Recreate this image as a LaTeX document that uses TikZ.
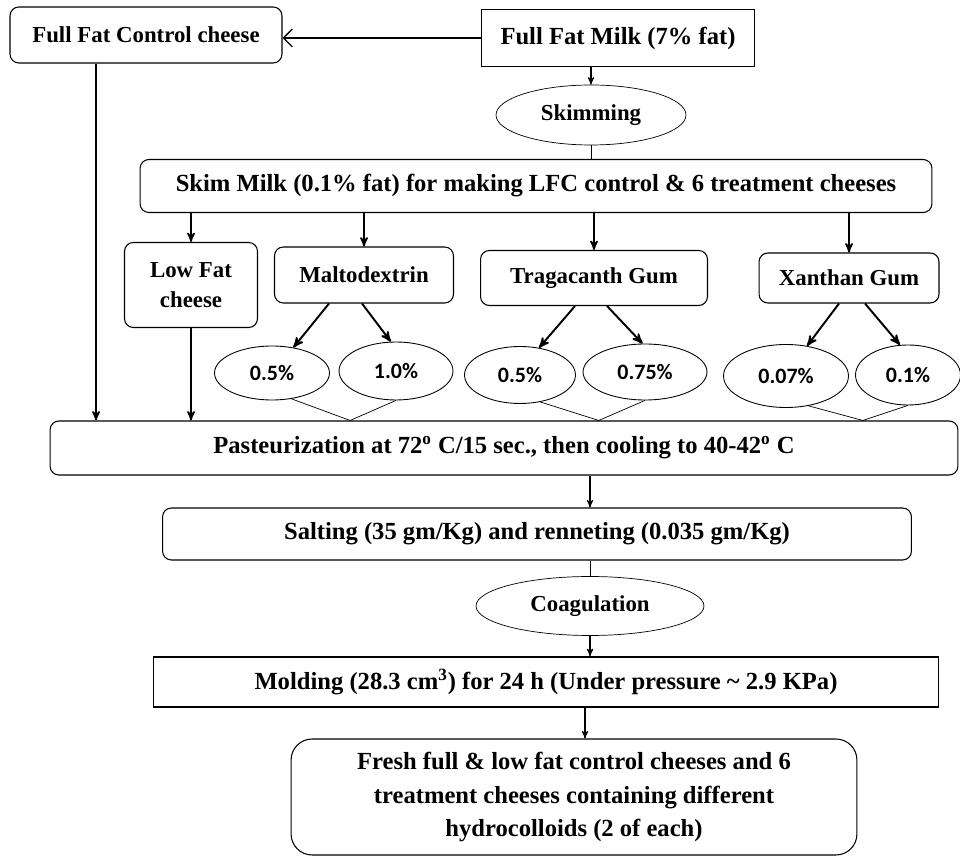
\documentclass[tikz,border=0pt]{standalone}
\usepackage{fontspec}
\setmainfont{Liberation Serif}
\newfontfamily\pctfont{Carlito}
\usetikzlibrary{arrows,arrows.meta}
\usetikzlibrary{calc,shapes.geometric}

\tikzset{
  rbox/.style={draw, rounded corners=5pt, line width=0.6pt, align=center,
    font=\fontsize{14}{19}\selectfont\bfseries},
  sbox/.style={draw, line width=0.8pt, align=center,
    font=\fontsize{14}{19}\selectfont\bfseries},
  small/.style={font=\fontsize{13}{17}\selectfont\bfseries},
  oval/.style={ellipse, draw, line width=0.4pt, inner sep=0pt,
    font=\fontsize{13}{16}\selectfont\bfseries},
  pct/.style={ellipse, draw, line width=0.5pt, inner sep=0pt,
    font=\pctfont\fontsize{12.5}{15}\selectfont\bfseries},
}

\begin{document}
\begin{tikzpicture} [x=0.02cm, y=-0.02cm]
\useasboundingbox (0,0) rectangle (960,857);
% top row
\node[rbox, small, minimum width=5.44cm, minimum height=1.12cm] (ffc) at (146,35) {Full Fat Control cheese};
\node[sbox, minimum width=5.46cm, minimum height=1.14cm] (ffm) at (618,38) {Full Fat Milk (7\% fat)};
\node[oval, minimum width=3.8cm, minimum height=1.2cm] (skim) at (591,115) {Skimming};
\node[rbox, minimum width=15.84cm, minimum height=1.06cm] (skm) at (536,186) {Skim Milk (0.1\% fat) for making LFC control \& 6 treatment cheeses};
% treatments
\node[rbox, small, minimum width=2.66cm, minimum height=1.7cm] (lowfat) at (191,285) {Low Fat\\cheese};
\node[rbox, small, minimum width=3.58cm, minimum height=1.12cm] (malto) at (364,275) {Maltodextrin};
\node[rbox, small, minimum width=4.54cm, minimum height=1.1cm] (trag) at (594,278) {Tragacanth Gum};
\node[rbox, small, minimum width=3.6cm, minimum height=1.0cm] (xan) at (849,278) {Xanthan Gum};
\node[pct, minimum width=2.3cm, minimum height=1.08cm] (m05) at (272,373) {0.5\%};
\node[pct, minimum width=2.28cm, minimum height=1.16cm] (m10) at (396,371) {1.0\%};
\node[pct, minimum width=2.22cm, minimum height=1.14cm] (t05) at (520,375) {0.5\%};
\node[pct, minimum width=2.48cm, minimum height=1.12cm] (t075) at (645,372) {0.75\%};
\node[pct, minimum width=2.5cm, minimum height=1.26cm] (x007) at (786,376) {0.07\%};
\node[pct, minimum width=2.1cm, minimum height=1.2cm] (x01) at (908,375) {0.1\%};
% process
\node[rbox, minimum width=18.16cm, minimum height=1.08cm] (past) at (504,448) {Pasteurization at 72\textsuperscript{o} C/15 sec., then cooling to 40-42\textsuperscript{o} C};
\node[rbox, minimum width=14.98cm, minimum height=1.04cm] (salt) at (537,534) {Salting (35 gm/Kg) and renneting (0.035 gm/Kg)};
\node[oval, minimum width=4.56cm, minimum height=1.18cm] (coag) at (590,606) {Coagulation};
\node[sbox, minimum width=15.7cm, minimum height=1.0cm] (mold) at (546,682) {Molding (28.3 cm\textsuperscript{3}) for 24 h (Under pressure \textasciitilde{} 2.9 KPa)};
\node[rbox, rounded corners=12pt, minimum width=11.32cm, minimum height=2.32cm] (fresh) at (574,797) {Fresh full \& low fat control cheeses and 6\\treatment cheeses containing different\\hydrocolloids (2 of each)};

% connectors
\draw[-{Straight Barb[length=5pt,width=10pt]}, line width=0.8pt] (ffm.west) -- (ffm.west -| ffc.east);
\draw[->, >=stealth', line width=0.6pt] (ffm.south -| skim.north) -- (skim.north);
\draw[line width=0.4pt] (skim.south) -- (skim.south |- skm.north);
\foreach \n in {lowfat,malto,trag,xan} {
  \draw[->, >=stealth', line width=0.9pt] (skm.south -| \n.north) -- (\n.north);
}
\foreach \src/\sa/\sb/\a/\b/\ea/\eb in {malto/-0.7/-0.04/m05/m10/50/100, trag/-0.38/0.26/t05/t075/55/95, xan/-0.2/0.32/x007/x01/55/105} {
  \draw[->, >=stealth', line width=1.1pt] ([xshift=\sa cm]\src.south) -- (\a.\ea);
  \draw[->, >=stealth', line width=1.1pt] ([xshift=\sb cm]\src.south) -- (\b.\eb);
  \coordinate (\a-mid) at ($(\a)!0.63!(\b)$);
  \draw[line width=0.4pt] (\a.-53) -- (\a-mid |- past.north) -- (\b.-90);
}
\draw[->, >=stealth', line width=0.9pt] ([xshift=-1cm]ffc.south) -- ([xshift=-1cm]ffc.south |- past.north);
\draw[->, >=stealth', line width=0.9pt] (lowfat.south) -- (lowfat.south |- past.north);
\draw[->, >=stealth', line width=0.6pt] (past.south -| coag.north) -- (salt.north -| coag.north);
\draw[line width=0.4pt] (salt.south -| coag.north) -- (coag.north);
\draw[->, >=stealth', line width=0.6pt] (coag.south) -- (coag.south |- mold.north);
\draw[->, >=stealth', line width=0.6pt] ([xshift=-0.1cm]mold.south -| coag.south) -- ([xshift=-0.1cm]fresh.north -| coag.south);
\end{tikzpicture}
\end{document}
